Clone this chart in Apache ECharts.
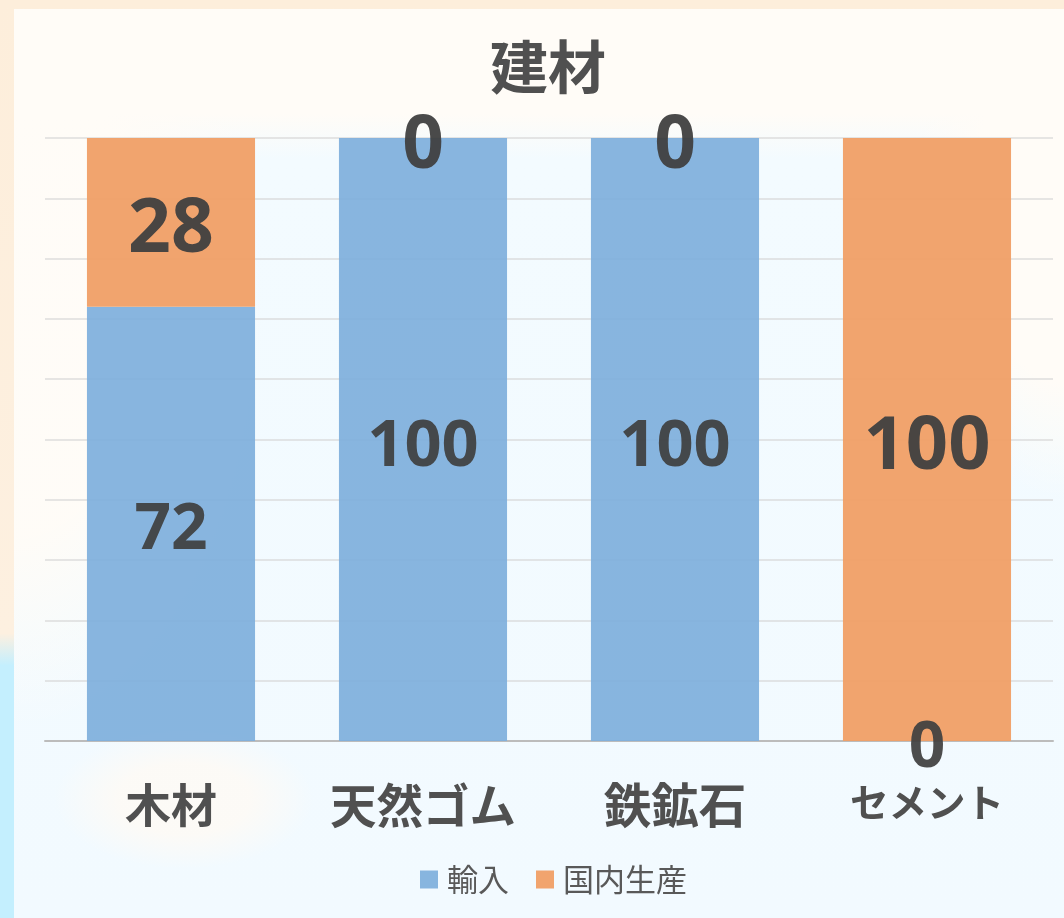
<!DOCTYPE html>
<html><head><meta charset="utf-8">
<style>
html,body{margin:0;padding:0;width:1064px;height:918px;overflow:hidden;background:linear-gradient(180deg,#fdeedb 0%,#fdf0e0 69%,#c4effe 72.5%,#c4effe 100%);}
#panel{position:absolute;left:14px;top:9px;width:1050px;height:909px;background:
 radial-gradient(ellipse 130px 70px at 170px 790px,rgba(255,250,244,0.8) 50%,rgba(255,250,244,0) 100%),
 radial-gradient(ellipse 250px 430px at 0px 290px,rgba(255,252,247,0.98) 55%,rgba(255,252,247,0) 100%),
 radial-gradient(ellipse 150px 290px at 100% 200px,rgba(255,252,247,1) 60%,rgba(255,252,247,0) 100%),
 linear-gradient(180deg,#fffcf7 0px,#fffcf7 105px,#f3fbff 150px,#f2faff 100%);}
#c{position:absolute;left:0;top:0;width:1064px;height:918px;}
</style>
<script src="https://cdn.jsdelivr.net/npm/echarts@6/dist/echarts.min.js"></script>
</head><body><div id="panel"></div><div id="c"></div>
<script>
const categories = ['木材','天然ゴム','鉄鉱石','セメント'];
const importValues = [72,100,100,0];
const domesticValues = [28,0,0,100];
const titleText = '建材';
const seriesNames = ['輸入','国内生産'];
const font = '"Noto Sans CJK JP","Noto Sans",sans-serif';
const numFont = '"Open Sans","Noto Sans",sans-serif';
const chart = echarts.init(document.getElementById('c'),null,{renderer:'canvas'});
function lab(fontSize,offset){return {show:true,position:'inside',fontSize,fontFamily:numFont,fontWeight:'bold',color:'#404040',offset};}
chart.setOption({
  backgroundColor:'transparent',
  animation:false,
  title:{text:titleText,left:543,top:33,textAlign:'center',textStyle:{fontSize:58,fontWeight:'bold',fontFamily:font,color:'#505050'}},
  legend:{data:seriesNames,left:415,top:859,itemWidth:18,itemHeight:18,itemGap:27,icon:'rect',
    textStyle:{fontSize:31,fontFamily:font,color:'#595959',padding:[0,0,0,4]}},
  grid:{left:45,right:11,top:138,bottom:177,containLabel:false},
  xAxis:{type:'category',data:[
    {value:categories[0],textStyle:{fontSize:46,lineHeight:50}},
    {value:categories[1],textStyle:{fontSize:46.5,lineHeight:50}},
    {value:categories[2],textStyle:{fontSize:47.5,lineHeight:50}},
    {value:categories[3],textStyle:{fontSize:38.5,lineHeight:44}}],
    axisTick:{show:false},axisLine:{lineStyle:{color:'#bcbcbc',width:2}},
    axisLabel:{margin:39,fontWeight:'bold',fontFamily:font,color:'#505050',interval:0}},
  yAxis:{type:'value',min:0,max:100,interval:10,axisLabel:{show:false},axisLine:{show:false},axisTick:{show:false},
    splitLine:{lineStyle:{color:'#d6d6d6',width:1.5,opacity:0.8}}},
  series:[
    {name:seriesNames[0],type:'bar',stack:'a',barCategoryGap:'33.3%',z:3,
     itemStyle:{color:'#7fafdd',opacity:0.93},
     data:[
      {value:importValues[0],label:lab(64,[0,7])},
      {value:importValues[1],label:lab(65,[0,8])},
      {value:importValues[2],label:lab(65,[0,8])},
      {value:importValues[3],label:lab(64,[0,8])}]},
    {name:seriesNames[1],type:'bar',stack:'a',z:3,
     itemStyle:{color:'#f09f66',opacity:0.95},
     data:[
      {value:domesticValues[0],label:lab(75,[0,8])},
      {value:domesticValues[1],label:lab(73,[0,9])},
      {value:domesticValues[2],label:lab(73,[0,9])},
      {value:domesticValues[3],label:lab(74,[0,8])}]}
  ]
});
</script></body></html>
